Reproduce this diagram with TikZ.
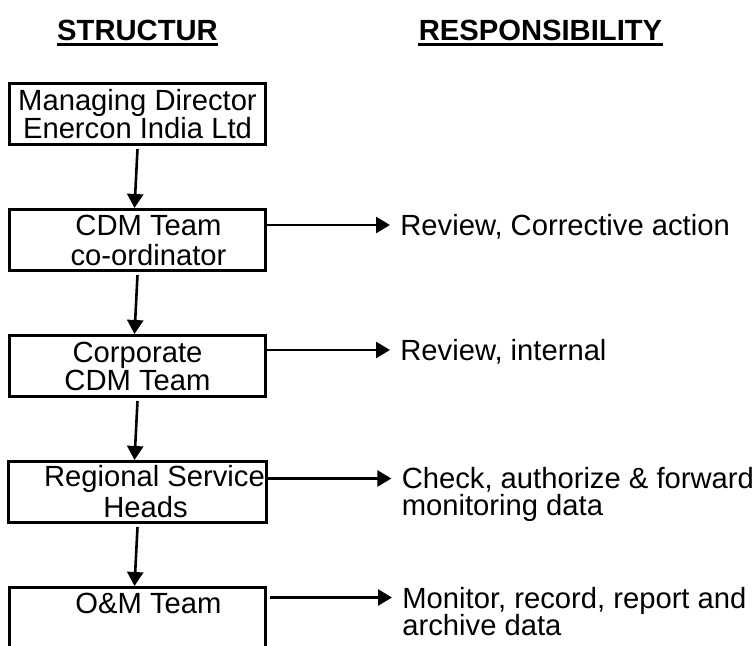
\documentclass[tikz,border=0pt]{standalone}
\usepackage{fontspec}
\setmainfont{Liberation Sans}
\usetikzlibrary{arrows.meta, positioning}
\newcommand\orgfont[1]{\fontsize{14.6}{#1}\selectfont\lineskiplimit=-10pt\relax}

\begin{document}
\begin{tikzpicture}[x=0.5pt, y=-0.5pt,
	box/.style={rectangle, draw, line width=1.5pt, align=center, minimum width=128pt,
	            minimum height=30.5pt, inner xsep=1pt, inner ysep=1pt, font=\orgfont{15}},
	resp/.style={align=left, anchor=base west, inner xsep=5pt, inner ysep=0pt,
	             font=\orgfont{13.5}},
	head/.style={anchor=base, inner xsep=0pt, inner ysep=1.75pt, text depth=0pt,
	             font=\orgfont{15}\bfseries},
	arr/.style={-{Triangle[length=7pt, width=8pt]}, line width=1.3pt}
	]
	\useasboundingbox (0,0) rectangle (755,646);
	\clip (0,0) rectangle (755,646);

	\node[head] (st) at (137.5,41) {STRUCTUR};
	\node[head] (rs) at (540.5,41) {RESPONSIBILITY};
	\draw[line width=1.4pt] (st.south west) -- (st.south east);
	\draw[line width=1.4pt] (rs.south west) -- (rs.south east);

	\node[box, font=\orgfont{13.6}] (md) at (137.5,114) {Managing Director\\Enercon India Ltd};
	\node[box, below=31pt of md] (cdm) {\hspace*{11pt}CDM Team\\\hspace*{11pt}co-ordinator};
	\node[box, below=31pt of cdm, font=\orgfont{14}] (corp) {Corporate\\CDM Team};
	\node[box, below=31pt of corp, font=\orgfont{15.5}] (rsh) {\hspace*{17pt}Regional Service\\\hspace*{8pt}Heads};
	\node[box, below=31pt of rsh] (om) {\hspace*{11pt}O\&M Team\\\mbox{}};

	% base of a two-line text is its last line
	\node[resp] (r2) at ([xshift=61.5pt, yshift=2.25pt]cdm.east) {Review, Corrective action};
	\node[resp] (r3) at ([xshift=61.5pt, yshift=2.75pt]corp.east) {Review, internal};
	\node[resp] (r4) at ([xshift=61.5pt, yshift=-12pt]rsh.east) {Check, authorize \& forward\\monitoring data};
	\node[resp] (r5) at ([xshift=62.5pt, yshift=-8.5pt]om.east) {Monitor, record, report and\\archive data};

	\draw[arr] ([yshift=-1.5pt]md.south) -- ([xshift=-1.5pt]cdm.north);
	\draw[arr] ([yshift=-1.5pt]cdm.south) -- ([xshift=-1.5pt]corp.north);
	\draw[arr] ([yshift=-1.5pt]corp.south) -- ([xshift=-1.5pt]rsh.north);
	\draw[arr] ([yshift=-1.5pt]rsh.south) -- ([xshift=-1.5pt]om.north);

	\draw[arr] ([yshift=5.25pt]cdm.east |- r2.base west) -- ([yshift=5.25pt]r2.base west);
	\draw[arr] ([yshift=5.25pt]corp.east |- r3.base west) -- ([yshift=5.25pt]r3.base west);
	\draw[arr] ([yshift=18.75pt]rsh.east |- r4.base west) -- ([yshift=18.75pt]r4.base west);
	\draw[arr] ([xshift=1.5pt, yshift=18.75pt]om.east |- r5.base west) -- ([yshift=18.75pt]r5.base west);
\end{tikzpicture}
\end{document}
